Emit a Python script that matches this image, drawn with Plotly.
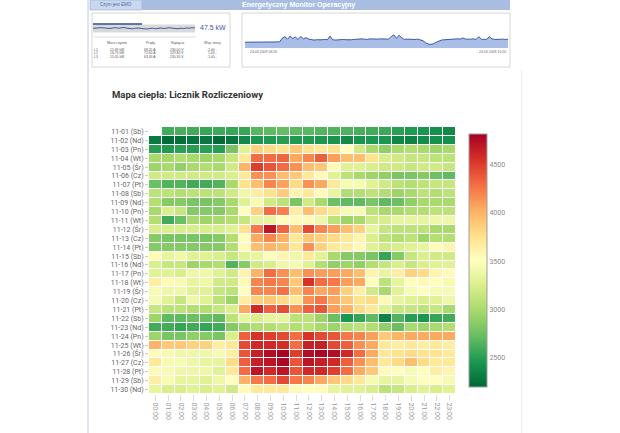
import plotly.graph_objects as go

W, H = 620, 433

hours = ["00:00", "01:00", "02:00", "03:00", "04:00", "05:00", "06:00", "07:00",
         "08:00", "09:00", "10:00", "11:00", "12:00", "13:00", "14:00", "15:00",
         "16:00", "17:00", "18:00", "19:00", "20:00", "21:00", "22:00", "23:00"]

days = ["11-01 (Sb)", "11-02 (Nd)", "11-03 (Pn)", "11-04 (Wt)", "11-05 (Śr)",
        "11-06 (Cz)", "11-07 (Pt)", "11-08 (Sb)", "11-09 (Nd)", "11-10 (Pn)",
        "11-11 (Wt)", "11-12 (Śr)", "11-13 (Cz)", "11-14 (Pt)", "11-15 (Sb)",
        "11-16 (Nd)", "11-17 (Pn)", "11-18 (Wt)", "11-19 (Śr)", "11-20 (Cz)",
        "11-21 (Pt)", "11-22 (Sb)", "11-23 (Nd)", "11-24 (Pn)", "11-25 (Wt)",
        "11-26 (Śr)", "11-27 (Cz)", "11-28 (Pt)", "11-29 (Sb)", "11-30 (Nd)"]

z = [
    [None, 2600, 2620, 2600, 2560, 2580, 2560, 2560, 2680, 2700, 2720, 2700, 2680, 2660, 2650, 2640, 2620, 2600, 2580, 2520, 2480, 2450, 2420, 2380],
    [2300, 2230, 2240, 2270, 2290, 2220, 2280, 2380, 2450, 2480, 2500, 2480, 2480, 2460, 2440, 2380, 2440, 2460, 2450, 2370, 2350, 2400, 2420, 2430],
    [2500, 2480, 2520, 2500, 2520, 2500, 2800, 3300, 3850, 3800, 3750, 3900, 3750, 3700, 3750, 3500, 3200, 3000, 2900, 3000, 3050, 3000, 2950, 3000],
    [3000, 2980, 3050, 3000, 2950, 3000, 3150, 3700, 4300, 4300, 4330, 4050, 4200, 4350, 4100, 3950, 3950, 3750, 3250, 3200, 3150, 3150, 3100, 3100],
    [2950, 3000, 2900, 3000, 3050, 3000, 3200, 4000, 4500, 4400, 4300, 4150, 3950, 3900, 3550, 3300, 3300, 3250, 3200, 3200, 3150, 3200, 3200, 3150],
    [3200, 3200, 3200, 3200, 3200, 3200, 3250, 3700, 4150, 4150, 3950, 3900, 3700, 3550, 3300, 3100, 3000, 2950, 2900, 2800, 2800, 2850, 2750, 2700],
    [2750, 2650, 2650, 2600, 2600, 2650, 3000, 3750, 3950, 4200, 4080, 3800, 4150, 4050, 3700, 3450, 3450, 3300, 3200, 3100, 3050, 3100, 3150, 3150],
    [3100, 3100, 3050, 3100, 3100, 3100, 3200, 3400, 3650, 3750, 3880, 3600, 3700, 3550, 3350, 3050, 3050, 3100, 3050, 2950, 3000, 3100, 3050, 3100],
    [3050, 2850, 2850, 2800, 2800, 2850, 3000, 3300, 3450, 3200, 3100, 2800, 3200, 3000, 2750, 2700, 2700, 2800, 2700, 2750, 2900, 3000, 3000, 3000],
    [3000, 3250, 3150, 2850, 2850, 2850, 3000, 3500, 3850, 4300, 4220, 3650, 3950, 3800, 3700, 3450, 3450, 3100, 3000, 3000, 3050, 3050, 3100, 3100],
    [3050, 2600, 2750, 3000, 2950, 3000, 3050, 3150, 3350, 3350, 3500, 3550, 3550, 3400, 3100, 2950, 3000, 3200, 3250, 3350, 3350, 3350, 3400, 3400],
    [3250, 3250, 3250, 3250, 3250, 3250, 3300, 3750, 4250, 4700, 4330, 3950, 4450, 4200, 4100, 3950, 3850, 3350, 3150, 3100, 3100, 3100, 3000, 3000],
    [2850, 2800, 2800, 2800, 2800, 2850, 3050, 3500, 4050, 4200, 4020, 3700, 3900, 3850, 3800, 3700, 3600, 3250, 3100, 3050, 3100, 2950, 3050, 3050],
    [2850, 2850, 2850, 2850, 2850, 2850, 3050, 3550, 3950, 4000, 3950, 3700, 4150, 3850, 3700, 3650, 3550, 3300, 3200, 3250, 3300, 3350, 3550, 3600],
    [3550, 3350, 3400, 3300, 3300, 3250, 3150, 3300, 3350, 3500, 3580, 3400, 3700, 3300, 3000, 2850, 2850, 2800, 2550, 2850, 3150, 3250, 3200, 3200],
    [3250, 3150, 3150, 2950, 3000, 3050, 2650, 2850, 3200, 3250, 3400, 3450, 3300, 3050, 2900, 2950, 2900, 3050, 3150, 3250, 3150, 3250, 3300, 3300],
    [3300, 3300, 3250, 3400, 3400, 3300, 3200, 3600, 4000, 4300, 4150, 3950, 4150, 4100, 4100, 4050, 3950, 3600, 3350, 3650, 3850, 3800, 3600, 3550],
    [3650, 3550, 3450, 3350, 3400, 3200, 3200, 3550, 4200, 4250, 4200, 3900, 4550, 4300, 4250, 4100, 4050, 3500, 3100, 3350, 3500, 3550, 3500, 3450],
    [3450, 3400, 3400, 3300, 3300, 3150, 3100, 3500, 4200, 4200, 4280, 3950, 4200, 4050, 4100, 3850, 3650, 3200, 3000, 3300, 3450, 3500, 3450, 3450],
    [3450, 3300, 3150, 3400, 3300, 3100, 2950, 3650, 3850, 3900, 3800, 3700, 4150, 4250, 4050, 3900, 3750, 3800, 3550, 3350, 3300, 3250, 3300, 3400],
    [3150, 3100, 3100, 3050, 3050, 3150, 3250, 4050, 4600, 4350, 4430, 4150, 4350, 4400, 4100, 4000, 3800, 3700, 3300, 3150, 3150, 3100, 3150, 3000],
    [2950, 2700, 2700, 2750, 2750, 2700, 3100, 3350, 3250, 3350, 3350, 3100, 3100, 2950, 2750, 2450, 2550, 2700, 2350, 2650, 2500, 2450, 2550, 2600],
    [2600, 2600, 2550, 2600, 2550, 2600, 2850, 2950, 3050, 3050, 3120, 3050, 3100, 3000, 2950, 3050, 3100, 3050, 2900, 2750, 3000, 2950, 3000, 3050],
    [2950, 2800, 2800, 2900, 2850, 2800, 3250, 4350, 4550, 4500, 4450, 4300, 4550, 4450, 4400, 4250, 4200, 4100, 3900, 4000, 4050, 4050, 4050, 4050],
    [4000, 3900, 3900, 3850, 3850, 3650, 3700, 4450, 4600, 4600, 4570, 4300, 4650, 4650, 4450, 4350, 4150, 4050, 3700, 3650, 3700, 3650, 3700, 3650],
    [3550, 3450, 3400, 3400, 3400, 3450, 3650, 4400, 4650, 4750, 4800, 4500, 4750, 4800, 4750, 4600, 4300, 4050, 3700, 3750, 3800, 3750, 3750, 3700],
    [3700, 3450, 3450, 3400, 3350, 3350, 3800, 4350, 4650, 4700, 4780, 4400, 4700, 4650, 4600, 4350, 4150, 3950, 3700, 3800, 3950, 3800, 3700, 3700],
    [3550, 3450, 3400, 3400, 3400, 3300, 3700, 4300, 4700, 4600, 4700, 4400, 4600, 4600, 4500, 4300, 4050, 3900, 3550, 3500, 3450, 3500, 3650, 3600],
    [3650, 3450, 3350, 3350, 3300, 3400, 3500, 4000, 4250, 4300, 4450, 4250, 4200, 4050, 3900, 3800, 3700, 3450, 3350, 3350, 3450, 3500, 3500, 3450],
    [3350, 3250, 3250, 3300, 3250, 3300, 3200, 3550, 3700, 3700, 3700, 3550, 3500, 3550, 3350, 3300, 3300, 3250, 3100, 3150, 3250, 3300, 3250, 3300],
]

cbar_ticks = [2500, 3000, 3500, 4000, 4500]

# Small dashboard trend (right panel), kW
trend_right = [20, 20, 20, 20, 20, 20, 20, 20, 20, 20, 20, 20, 20, 21,
               33, 38, 30, 40, 32, 37, 29, 39, 31, 35, 30,
               28, 27, 28, 27, 28, 29, 28, 40, 28, 27, 28, 28, 29, 28, 27, 28, 29,
               30, 29, 31, 30, 29, 31, 30, 29, 30, 31, 30, 29, 30,
               38, 44, 33, 43, 35,
               29, 30, 29, 28, 29, 30, 28,
               25, 18, 14, 13, 15, 20, 24, 27,
               28, 29, 30, 29, 30, 31, 30, 34, 30, 29, 30, 31, 29, 38, 30, 29, 30, 38, 31, 29, 30, 31, 30, 29, 30]

# Small dashboard trend (left panel), kW
trend_left = [46, 47, 46, 48, 47, 46, 45, 47, 48, 46, 47, 49, 46, 45, 44, 46, 47, 45, 44,
              43, 45, 46, 44, 46, 47, 45, 46, 48, 46, 45, 44, 46, 45, 47, 46, 48, 47]

phases = ["L1", "L2", "L3"]
power = ["15.69 kW", "16.73 kW", "15.05 kW"]
current = ["68.20 A", "72.60 A", "63.30 A"]
voltage = ["230.00 V", "229.80 V", "230.30 V"]
pf = ["-1.00 -", "1.00 -", "-1.00 -"]


def px(x):
    return x / W


def py(y):
    return 1 - y / H


fig = go.Figure()

fig.add_trace(go.Heatmap(
    z=z, x=hours, y=days,
    colorscale="RdYlGn_r", zmin=2200, zmax=4820,
    xgap=1, ygap=1, hoverongaps=False,
    colorbar=dict(
        x=px(469), xanchor="left", xpad=0, ypad=0,
        y=py(260.3), yanchor="middle",
        len=253, lenmode="pixels", thickness=18, thicknessmode="pixels",
        outlinewidth=1, outlinecolor="#a0a0a0",
        tickvals=cbar_ticks, ticks="",
        tickfont=dict(family="Roboto", size=7, color="#8a8a8a"),
    ),
))

fig.add_trace(go.Scatter(
    x=list(range(len(trend_right))), y=trend_right,
    mode="lines", fill="tozeroy", fillcolor="#a9bde6",
    line=dict(color="#3a5aa6", width=1), xaxis="x2", yaxis="y2",
    showlegend=False, hoverinfo="skip",
))

fig.add_trace(go.Scatter(
    x=list(range(len(trend_left))), y=trend_left,
    mode="lines", line=dict(color="#3a5aa6", width=1), xaxis="x3", yaxis="y3",
    showlegend=False, hoverinfo="skip",
))


def pshape(**kw):
    kw.setdefault("xref", "paper")
    kw.setdefault("yref", "paper")
    return kw


shapes = [
    # page borders
    pshape(type="line", x0=px(88), x1=px(88), y0=0, y1=1, line=dict(color="#d3dbe7", width=1.5)),
    pshape(type="line", x0=px(521.5), x1=px(521.5), y0=0, y1=py(70), line=dict(color="#ececec", width=1)),
    # header bar
    pshape(type="rect", x0=px(90), x1=px(510), y0=py(10), y1=py(0), fillcolor="#a9bde3", line=dict(width=0), layer="below"),
    pshape(type="rect", x0=px(90), x1=px(142), y0=py(10), y1=py(0), fillcolor="#c9d7ef", line=dict(color="#9db2d9", width=0.7), layer="below"),
    # panels
    pshape(type="rect", x0=px(92), x1=px(230), y0=py(67), y1=py(13), fillcolor="white", line=dict(color="#d6d6d6", width=1), layer="below"),
    pshape(type="rect", x0=px(242), x1=px(510), y0=py(67), y1=py(13), fillcolor="white", line=dict(color="#d6d6d6", width=1), layer="below"),
    # left mini chart background
    pshape(type="rect", x0=px(93), x1=px(195), y0=py(32.5), y1=py(24.5), fillcolor="#d9d9d9", line=dict(width=0), layer="below"),
    pshape(type="line", x0=px(93), x1=px(142), y0=py(24), y1=py(24), line=dict(color="#2d4b8e", width=1.5)),
    pshape(type="line", x0=px(94), x1=px(196), y0=py(37), y1=py(37), line=dict(color="#cfcfcf", width=0.7)),
]

annotations = [
    dict(text="<b>Mapa ciepła: Licznik Rozliczeniowy</b>", x=px(110), y=py(94), xref="paper", yref="paper",
         xanchor="left", yanchor="middle", showarrow=False,
         font=dict(family="Roboto", size=9.5, color="#333333")),
    dict(text="<b>Energetyczny Monitor Operacyjny</b>", x=px(298), y=py(4.5), xref="paper", yref="paper",
         xanchor="center", yanchor="middle", showarrow=False,
         font=dict(family="Liberation Sans", size=7, color="white")),
    dict(text="Czym jest EMO", x=px(116), y=py(5), xref="paper", yref="paper",
         xanchor="center", yanchor="middle", showarrow=False,
         font=dict(family="Liberation Sans", size=4.5, color="#4a6aa5")),
    dict(text="47.5 kW", x=px(213), y=py(27.5), xref="paper", yref="paper",
         xanchor="center", yanchor="middle", showarrow=False,
         font=dict(family="Liberation Sans", size=7, color="#3a5aa6")),
    dict(text="24.03.2009 06:20", x=px(248), y=py(52), xref="paper", yref="paper",
         xanchor="left", yanchor="middle", showarrow=False,
         font=dict(family="Liberation Sans", size=3.5, color="#666666")),
    dict(text="24.03.2009 10:20", x=px(508), y=py(52), xref="paper", yref="paper",
         xanchor="right", yanchor="middle", showarrow=False,
         font=dict(family="Liberation Sans", size=3.5, color="#666666")),
]

tbl_font = dict(family="Liberation Sans", size=3.4, color="#555555")
col_x = [px(117), px(150), px(177), px(212)]
headers = ["Moce czynne", "Prądy", "Napięcia", "Wsp. mocy"]
for cx, h in zip(col_x, headers):
    annotations.append(dict(text=h, x=cx, y=py(42.5), xref="paper", yref="paper", xanchor="center",
                            yanchor="middle", showarrow=False, font=tbl_font, borderpad=0))
row_y = [py(50), py(53.5), py(57)]
for i, ry in enumerate(row_y):
    annotations.append(dict(text=phases[i], x=px(93), y=ry, xref="paper", yref="paper", xanchor="left",
                            yanchor="middle", showarrow=False, font=tbl_font, borderpad=0))
    for cx, vals in zip(col_x, [power, current, voltage, pf]):
        annotations.append(dict(text=vals[i], x=cx, y=ry, xref="paper", yref="paper", xanchor="center",
                                yanchor="middle", showarrow=False, font=tbl_font, borderpad=0))

fig.update_layout(
    width=W, height=H,
    margin=dict(l=0, r=0, t=0, b=0),
    paper_bgcolor="white", plot_bgcolor="white",
    font=dict(family="Roboto", color="#555555"),
    xaxis=dict(domain=[px(149), px(456)], type="category", tickangle=90,
               ticks="outside", ticklen=6, tickcolor="#dddddd", showgrid=False, zeroline=False,
               tickfont=dict(family="Roboto", size=7, color="#9a9a9a"), showline=False),
    yaxis=dict(domain=[py(394), py(127)], type="category", autorange="reversed",
               ticks="outside", ticklen=3, tickcolor="#c8c8c8", showgrid=False, zeroline=False,
               tickfont=dict(family="Roboto", size=7, color="#666666"), showline=False),
    xaxis2=dict(domain=[px(245), px(508)], range=[0, len(trend_right) - 1], visible=False, anchor="y2"),
    yaxis2=dict(domain=[py(48.3), py(30)], range=[0, 60], visible=False, anchor="x2"),
    xaxis3=dict(domain=[px(93), px(195)], range=[0, len(trend_left) - 1], visible=False, anchor="y3"),
    yaxis3=dict(domain=[py(32.5), py(24.5)], range=[30, 60], visible=False, anchor="x3"),
    shapes=shapes,
    annotations=annotations,
)

fig.write_html("out.html")
